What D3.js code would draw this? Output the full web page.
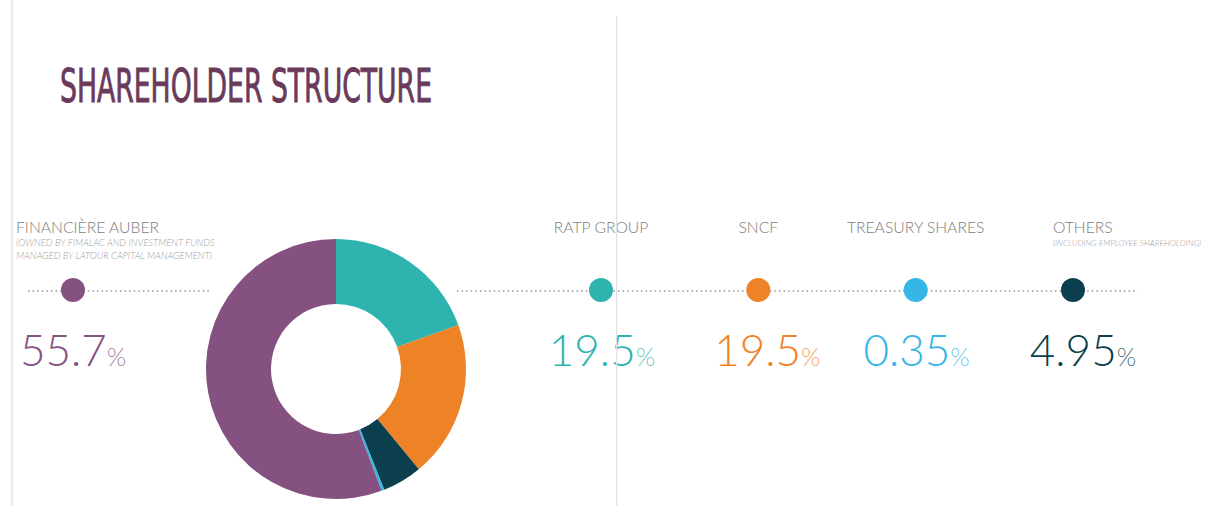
<!DOCTYPE html>
<html>
<head>
<meta charset="utf-8">
<script src="https://cdn.jsdelivr.net/npm/d3@7"></script>
<style>
  body { margin: 0; background: #fff; }
  svg { display: block; }
  text { font-family: Lato, "Open Sans", sans-serif; }
</style>
</head>
<body>
<div id="content"></div>
<script>
var width = 1220;
var height = 506;

// data
var holders = ["FINANCIÈRE AUBER", "RATP GROUP", "SNCF", "TREASURY SHARES", "OTHERS"];
var shares = [55.7, 19.5, 19.5, 0.35, 4.95];
var shareLabels = ["55.7", "19.5", "19.5", "0.35", "4.95"];
var notes = [
    ["(OWNED BY FIMALAC AND INVESTMENT FUNDS", "MANAGED BY LATOUR CAPITAL MANAGEMENT)"],
    [], [], [],
    ["(INCLUDING EMPLOYEE SHAREHOLDING)"]
];
var colors = ["#855180", "#2fb3ae", "#ee8227", "#36b6e6", "#0c3f4d"];
// order of slices round the ring, clockwise from the top
var ringOrder = [1, 2, 4, 3, 0];

var svg = d3.select("#content").append("svg")
    .attr("width", width)
    .attr("height", height);

// page guide line
svg.append("rect")
    .attr("x", 11).attr("y", 0)
    .attr("width", 2).attr("height", height)
    .attr("fill", "#ececec");

// title
svg.append("text")
    .attr("x", 60)
    .attr("y", 102)
    .attr("textLength", 372)
    .attr("lengthAdjust", "spacingAndGlyphs")
    .style("font-family", "'DejaVu Sans Condensed', 'DejaVu Sans', sans-serif")
    .style("font-size", "47px")
    .attr("fill", "#6a3a5b")
    .attr("stroke", "#6a3a5b")
    .attr("stroke-width", 0.9)
    .text("SHAREHOLDER STRUCTURE");

// donut
var cx = 336, cy = 369;
var pie = d3.pie().sort(null).value(d => shares[d]);
var arc = d3.arc().innerRadius(65).outerRadius(130);

svg.append("g")
    .attr("transform", `translate(${cx}, ${cy})`)
    .selectAll("path")
    .data(pie(ringOrder))
    .enter()
    .append("path")
    .attr("d", arc)
    .attr("fill", d => colors[d.data]);

// dotted rails
var railY = 291;
svg.append("line")
    .attr("x1", 28).attr("x2", 212)
    .attr("y1", railY).attr("y2", railY)
    .attr("stroke", "#8f8f8f")
    .attr("stroke-width", 1.4)
    .attr("stroke-dasharray", "1.4,3.2");

svg.append("line")
    .attr("x1", 457).attr("x2", 1138)
    .attr("y1", railY).attr("y2", railY)
    .attr("stroke", "#8f8f8f")
    .attr("stroke-width", 1.4)
    .attr("stroke-dasharray", "1.4,3.2");

// columns on the right
var xCol = d3.scalePoint()
    .domain(holders.slice(1))
    .range([601, 1073]);

var items = holders.map((name, i) => ({
    name: name,
    i: i,
    x: i === 0 ? 73 : xCol(name)
}));

var item = svg.selectAll(".holder")
    .data(items)
    .enter()
    .append("g")
    .attr("class", "holder");

item.append("circle")
    .attr("cx", d => d.x)
    .attr("cy", railY - 1)
    .attr("r", 12)
    .attr("fill", d => colors[d.i]);

// names
item.append("text")
    .attr("x", d => d.i === 0 ? 16 : (d.i === 4 ? 1053 : d.x))
    .attr("y", 233)
    .attr("text-anchor", d => (d.i === 0 || d.i === 4) ? "start" : "middle")
    .style("font-size", "15.7px")
    .style("font-weight", 300)
    .attr("fill", "#7d7d7d")
    .text(d => d.name);

// notes under names
item.each(function (d) {
    d3.select(this).selectAll(".note")
        .data(notes[d.i])
        .enter()
        .append("text")
        .attr("class", "note")
        .attr("x", d.i === 0 ? 16 : 1053)
        .attr("y", (n, j) => 246 + j * 12.5)
        .style("font-size", d.i === 4 ? "8.3px" : "9.5px")
        .style("font-style", "italic")
        .style("font-weight", 300)
        .attr("fill", "#a0a0a0")
        .text(n => n);
});

// percentages
var pctShift = [0, 1, 9, 1, 10];
var pct = item.append("text")
    .attr("x", d => d.i === 0 ? 20 : d.x + pctShift[d.i])
    .attr("y", 366)
    .attr("text-anchor", d => d.i === 0 ? "start" : "middle")
    .style("font-weight", 300)
    .attr("fill", d => colors[d.i]);

pct.append("tspan")
    .style("font-size", "44px")
    .text(d => shareLabels[d.i]);

pct.append("tspan")
    .style("font-size", "25px")
    .attr("fill-opacity", 0.75)
    .text("%");

// second guide line, over everything
svg.append("rect")
    .attr("x", 616).attr("y", 16)
    .attr("width", 1.2).attr("height", height - 16)
    .attr("fill", "#e2e2e2");
</script>
</body>
</html>
